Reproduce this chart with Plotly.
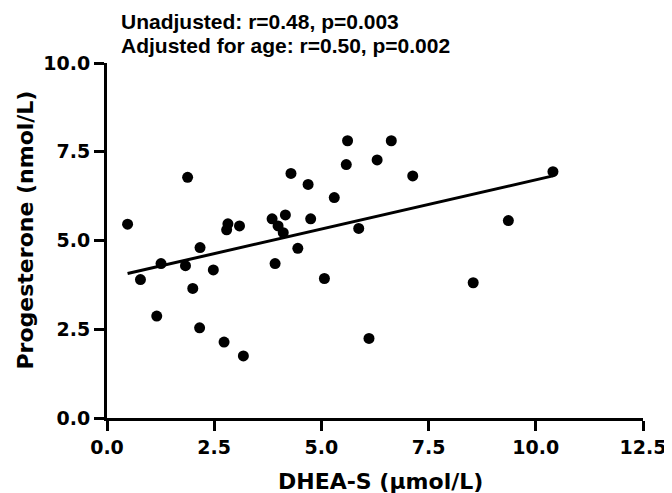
import plotly.graph_objects as go

# DHEA-S (µmol/L) vs Progesterone (nmol/L)
dhea_s = [0.48, 1.88, 0.78, 1.26, 1.16, 1.83, 2.17, 2.00, 2.16, 2.48, 2.73, 3.18,
          2.82, 2.79, 3.09, 3.85, 3.99, 4.11, 4.16, 3.92, 4.29, 4.45,
          5.61, 6.63, 5.58, 6.30, 4.69, 7.13, 5.30, 4.75, 5.87, 5.07, 6.11, 8.54,
          10.40, 9.36]
progesterone = [5.46, 6.78, 3.90, 4.35, 2.87, 4.29, 4.80, 3.65, 2.54, 4.17, 2.14, 1.75,
                5.47, 5.30, 5.41, 5.61, 5.41, 5.22, 5.72, 4.35, 6.89, 4.78,
                7.81, 7.81, 7.14, 7.27, 6.58, 6.82, 6.21, 5.61, 5.34, 3.93, 2.24, 3.81,
                6.94, 5.56]

# Regression line endpoints
fit_x = [0.48, 10.40]
fit_y = [4.07, 6.82]

x_ticks = [0.0, 2.5, 5.0, 7.5, 10.0, 12.5]
y_ticks = [0.0, 2.5, 5.0, 7.5, 10.0]
x_tick_labels = ["0.0", "2.5", "5.0", "7.5", "10.0", "12.5"]
y_tick_labels = ["0.0", "2.5", "5.0", "7.5", "10.0"]

x_title = "DHEA-S (μmol/L)"
y_title = "Progesterone (nmol/L)"
stats_lines = ["Unadjusted: r=0.48, p=0.003", "Adjusted for age: r=0.50, p=0.002"]

TICK_FONT = dict(family="DejaVu Sans", size=19, color="black")
TITLE_FONT = dict(family="DejaVu Sans", size=22, color="black")

# window 672x493; the page body has an 8px margin, so the figure starts at (8, 8)
WIN_W, WIN_H, BODY = 672, 493, 8
# plot area in window pixels
PL, PR, PT, PB = 107, 643, 63, 418
PW, PH = PR - PL, PB - PT

fig = go.Figure()
fig.add_trace(go.Scatter(x=fit_x, y=fit_y, mode="lines",
                         line=dict(color="black", width=3), showlegend=False,
                         cliponaxis=False))
fig.add_trace(go.Scatter(x=dhea_s, y=progesterone, mode="markers",
                         marker=dict(color="black", size=11), showlegend=False,
                         cliponaxis=False))

fig.update_layout(
    width=WIN_W - BODY, height=WIN_H - BODY,
    margin=dict(l=PL - BODY, r=WIN_W - PR, t=PT - BODY, b=WIN_H - PB, pad=0, autoexpand=False),
    paper_bgcolor="white", plot_bgcolor="white",
    font=dict(family="DejaVu Sans", color="black"),
    xaxis=dict(range=[0, 12.5], tickvals=x_ticks, ticktext=[f"<b>{t}</b>" for t in x_tick_labels],
               showline=True, linewidth=3, linecolor="black", ticks="outside",
               ticklen=10, tickwidth=3, tickcolor="black", showgrid=False, zeroline=False,
               tickfont=TICK_FONT, ticklabelstandoff=0, automargin=False),
    yaxis=dict(range=[0, 10], tickvals=y_ticks, ticktext=[f"<b>{t}</b>" for t in y_tick_labels],
               showline=True, linewidth=3, linecolor="black", ticks="outside",
               ticklen=10, tickwidth=3, tickcolor="black", showgrid=False, zeroline=False,
               tickfont=TICK_FONT, automargin=False),
)

# axis titles placed as annotations (positions in window pixels)
fig.add_annotation(xref="paper", yref="paper", x=(380.5 - PL) / PW, y=(PB - 481) / PH,
                   xanchor="center", yanchor="middle", showarrow=False,
                   text=f"<b>{x_title}</b>", font=TITLE_FONT)
fig.add_annotation(xref="paper", yref="paper", x=(25 - PL) / PW, y=(PB - 230.5) / PH,
                   xanchor="center", yanchor="middle", showarrow=False, textangle=-90,
                   text=f"<b>{y_title}</b>", font=TITLE_FONT)

for i, line in enumerate(stats_lines):
    fig.add_annotation(xref="paper", yref="paper", x=0.0223, y=1 + (PT - 21.5 - 24 * i) / PH,
                       xanchor="left", yanchor="middle", showarrow=False,
                       text=f"<b>{line}</b>",
                       font=dict(family="Liberation Sans", size=21, color="black"))

fig.write_html("out.html")
